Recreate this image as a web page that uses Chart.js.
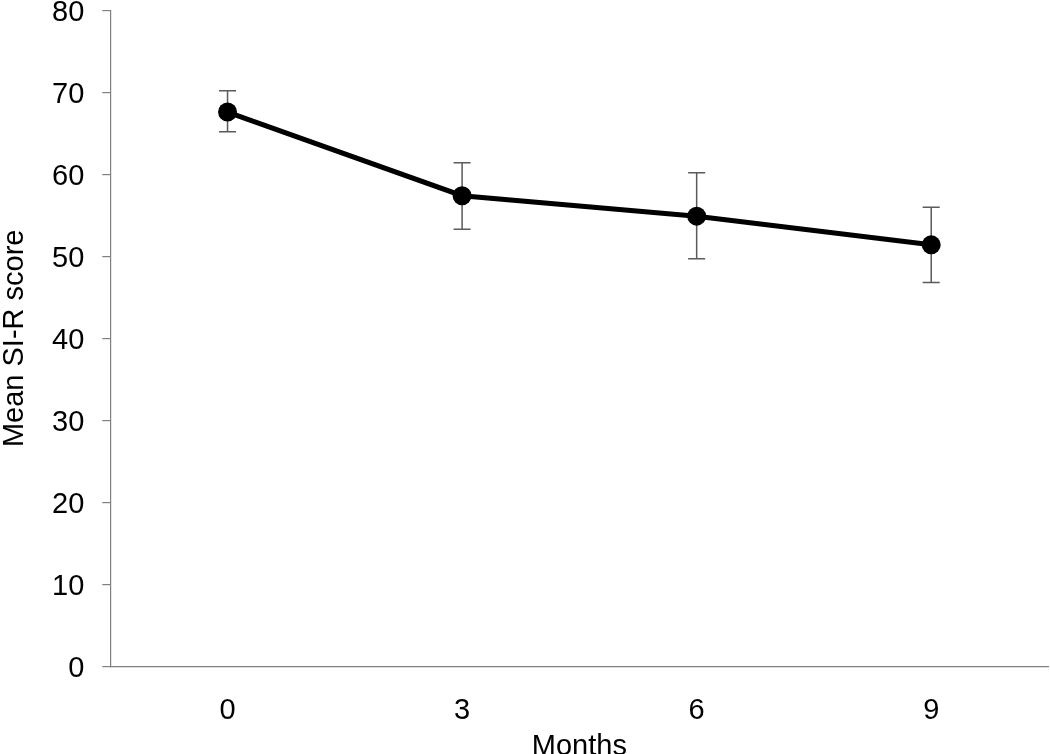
<!DOCTYPE html>
<html>
<head>
<meta charset="utf-8">
<script src="https://cdn.jsdelivr.net/npm/chart.js@4/dist/chart.umd.min.js"></script>
<style>
  body { margin: 0; background: #fff; overflow: hidden; }
  #wrap { width: 1058px; height: 786px; margin-top: -25px; }
</style>
</head>
<body>
<div id="wrap"><canvas id="siChart"></canvas></div>
<script>
// data
const months = ['0', '3', '6', '9'];
const meanScore = [67.6, 57.4, 54.9, 51.4];
const errUpper = [70.2, 61.4, 60.2, 56.0];
const errLower = [65.2, 53.3, 49.7, 46.8];
const yTicks = [0, 10, 20, 30, 40, 50, 60, 70, 80];

// error bars drawn from the scales
const errorBars = {
  id: 'errorBars',
  beforeDatasetsDraw(chart) {
    const ctx = chart.ctx;
    const x = chart.scales.x;
    const y = chart.scales.y;
    ctx.save();
    ctx.strokeStyle = '#5a5a5a';
    ctx.lineWidth = 1.5;
    months.forEach((m, i) => {
      const px = x.getPixelForValue(i);
      const top = y.getPixelForValue(errUpper[i]);
      const bot = y.getPixelForValue(errLower[i]);
      ctx.beginPath();
      ctx.moveTo(px, top); ctx.lineTo(px, bot);
      ctx.moveTo(px - 8.5, top); ctx.lineTo(px + 8.5, top);
      ctx.moveTo(px - 8.5, bot); ctx.lineTo(px + 8.5, bot);
      ctx.stroke();
    });
    ctx.restore();
  }
};

const font = { family: '"Liberation Sans", Arial, sans-serif', size: 29 };
const titleFont = { family: '"Liberation Sans", Arial, sans-serif', size: 29, lineHeight: 1.0 };

const siChart = new Chart(document.getElementById('siChart'), {
  type: 'line',
  data: {
    labels: months,
    datasets: [{
      label: 'Mean SI-R score',
      data: meanScore,
      borderColor: '#000',
      backgroundColor: '#000',
      borderWidth: 5,
      pointRadius: 9.5,
      pointBackgroundColor: '#000',
      pointBorderWidth: 0,
      tension: 0
    }]
  },
  options: {
    responsive: true,
    maintainAspectRatio: false,
    animation: false,
    layout: { padding: { top: 0, right: -6, bottom: 0, left: 0 } },
    plugins: {
      legend: { display: false },
      tooltip: { enabled: false }
    },
    scales: {
      x: {
        offset: true,
        grid: { display: false },
        border: { display: true, color: '#808080', width: 1.2 },
        ticks: { color: '#000', font: font, padding: 19 },
        title: { display: true, text: 'Months', color: '#000', font: titleFont, padding: { top: -15, bottom: 0 } }
      },
      y: {
        min: 0,
        max: 80,
        afterBuildTicks: (axis) => { axis.ticks = yTicks.map(v => ({ value: v })); },
        grid: { drawOnChartArea: false, drawTicks: true, tickLength: 8, color: '#808080', lineWidth: 1.2 },
        border: { display: true, color: '#808080', width: 1.2 },
        ticks: { color: '#000', font: font, padding: 18, labelOffset: 3 },
        title: { display: true, text: 'Mean SI-R score', color: '#000', font: titleFont, padding: { top: 0, bottom: 5 } }
      }
    }
  },
  plugins: [errorBars]
});
</script>
</body>
</html>
